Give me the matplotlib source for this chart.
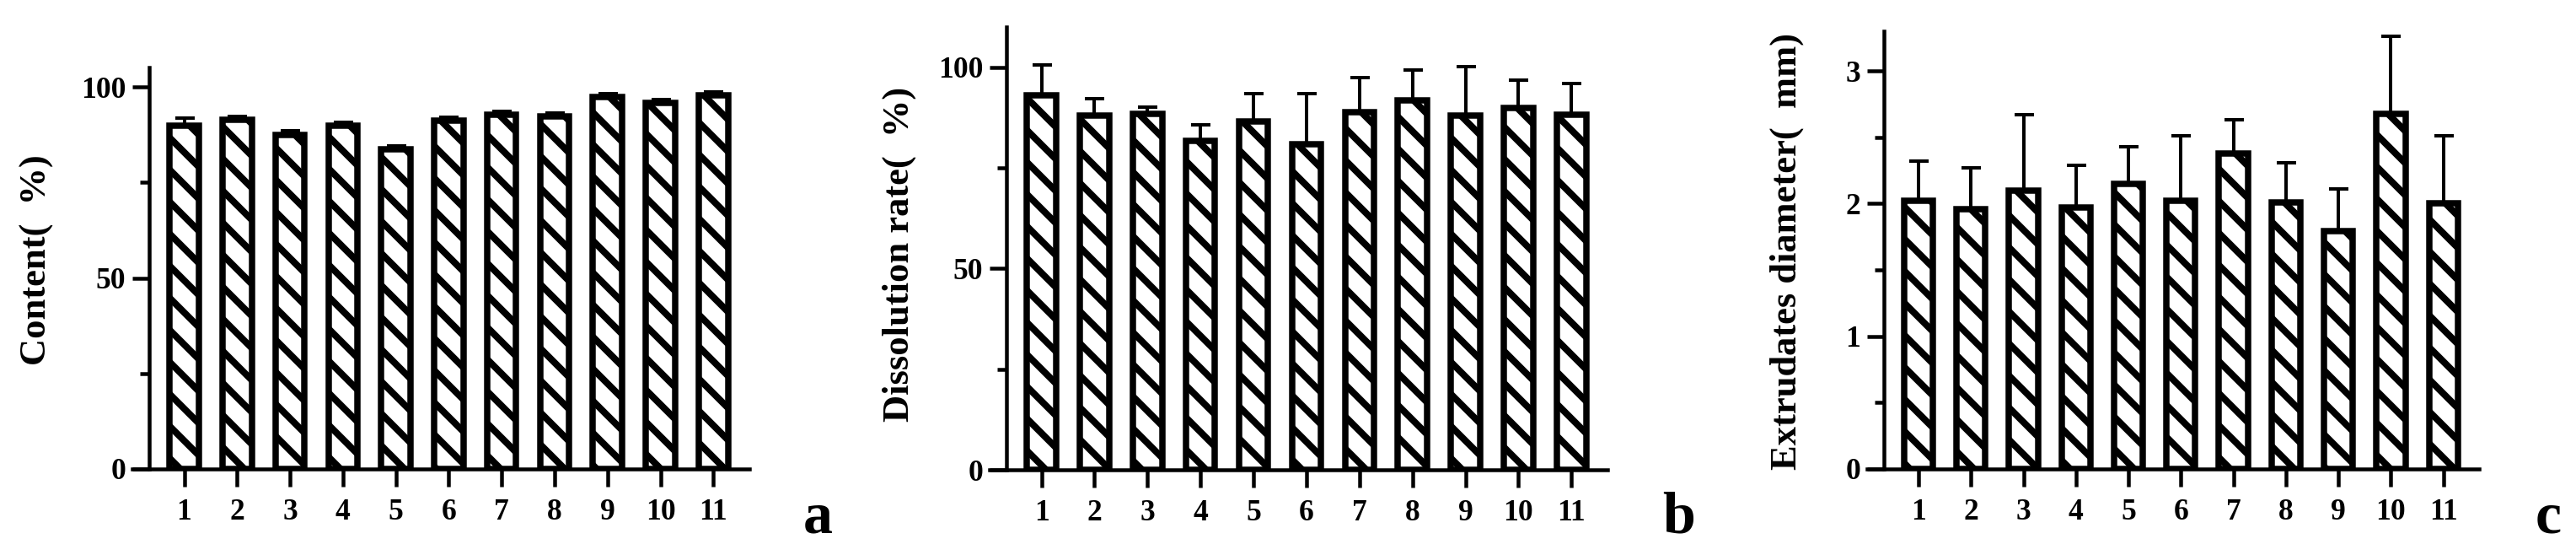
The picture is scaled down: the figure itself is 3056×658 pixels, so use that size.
import numpy as np
import matplotlib
matplotlib.use('Agg')
import matplotlib.pyplot as plt

DPI = 114
W, H = 3056, 658

def pt(px):
    # pixels -> points at the figure dpi
    return px * 72.0 / DPI

groups = ['1', '2', '3', '4', '5', '6', '7', '8', '9', '10', '11']

content = [89.9, 91.5, 87.5, 89.8, 83.6, 91.3, 92.8, 92.4, 97.4, 95.8, 97.9]
content_err = [1.9, 0.8, 1.05, 0.85, 0.9, 0.8, 0.8, 0.8, 0.8, 0.8, 0.8]

dissolution = [93.0, 88.0, 88.4, 81.8, 86.5, 80.9, 88.8, 91.7, 87.9, 89.8, 88.3]
dissolution_err = [7.6, 4.1, 1.6, 3.9, 6.9, 12.5, 8.7, 7.6, 12.2, 7.1, 7.6]

diameter = [2.02, 1.96, 2.10, 1.97, 2.15, 2.02, 2.38, 2.01, 1.79, 2.68, 2.00]
diameter_err = [0.30, 0.31, 0.57, 0.32, 0.28, 0.49, 0.25, 0.30, 0.32, 0.58, 0.51]

plt.rcParams['font.family'] = ['Liberation Serif', 'DejaVu Serif']
plt.rcParams['font.weight'] = 'bold'
plt.rcParams['hatch.color'] = 'black'
plt.rcParams['hatch.linewidth'] = pt(8)


def panel(box, vals, errs, ymax, major, minor, ylabel, lab_xy, letter, letter_x):
    left, right, bottom, top = box
    fig = plt.gcf()
    ax = fig.add_axes([left / W, 1 - bottom / H, (right - left) / W, (bottom - top) / H])
    x = np.arange(1, len(groups) + 1)
    # upper error bars only, drawn under the bars
    ax.errorbar(x, vals, yerr=[np.zeros(len(errs)), errs], fmt='none', ecolor='black',
                elinewidth=pt(4), capsize=pt(11.5), capthick=pt(4), zorder=1)
    ax.bar(x, vals, width=0.55, color='white', edgecolor='black', hatch='\\',
           linewidth=pt(7.5), zorder=2)
    ax.set_xlim(0.02, 11.68)
    ax.set_ylim(0, ymax)
    for s in ['top', 'right']:
        ax.spines[s].set_visible(False)
    ax.spines['left'].set_position(('data', 0.345))
    for s in ['left', 'bottom']:
        ax.spines[s].set_linewidth(pt(4.5))
        ax.spines[s].set_zorder(3)
    ax.set_xticks(x)
    ax.set_xticklabels(groups)
    ax.set_yticks(major)
    ax.set_yticks(minor, minor=True)
    ax.tick_params(axis='x', length=pt(21), width=pt(4.5), pad=pt(14), labelsize=pt(35.5))
    ax.tick_params(axis='y', which='major', length=pt(20), width=pt(4.5), pad=pt(8), labelsize=pt(35.5))
    ax.tick_params(axis='y', which='minor', length=pt(11), width=pt(4.5))
    for t in ax.get_xticklabels() + ax.get_yticklabels():
        t.set_fontweight('bold')
    ax.patch.set_alpha(0)
    fig.text(lab_xy[0] / W, 1 - lab_xy[1] / H, ylabel, rotation=90, ha='center', va='center',
             fontsize=pt(44.5), fontweight='bold')
    fig.text(letter_x / W, 1 - 632 / H, letter, ha='center', va='baseline',
             fontsize=pt(70), fontweight='bold')
    return ax


fig = plt.figure(figsize=(W / DPI, H / DPI), dpi=DPI)
fig.patch.set_facecolor('white')

panel((157, 889, 556, 80), content, content_err, 105.1, [0, 50, 100], [25, 75],
      'Content(  %)', (44, 308), 'a', 970)
panel((1174, 1907, 557, 32), dissolution, dissolution_err, 110, [0, 50, 100], [25, 75],
      'Dissolution rate(  %)', (1067, 301), 'b', 1992)
panel((2215, 2941, 556, 37), diameter, diameter_err, 3.3, [0, 1, 2, 3], [0.5, 1.5, 2.5],
      'Extrudates diameter(  mm)', (2120, 298), 'c', 3023)

fig.savefig('out.png', dpi=DPI, facecolor='white')
